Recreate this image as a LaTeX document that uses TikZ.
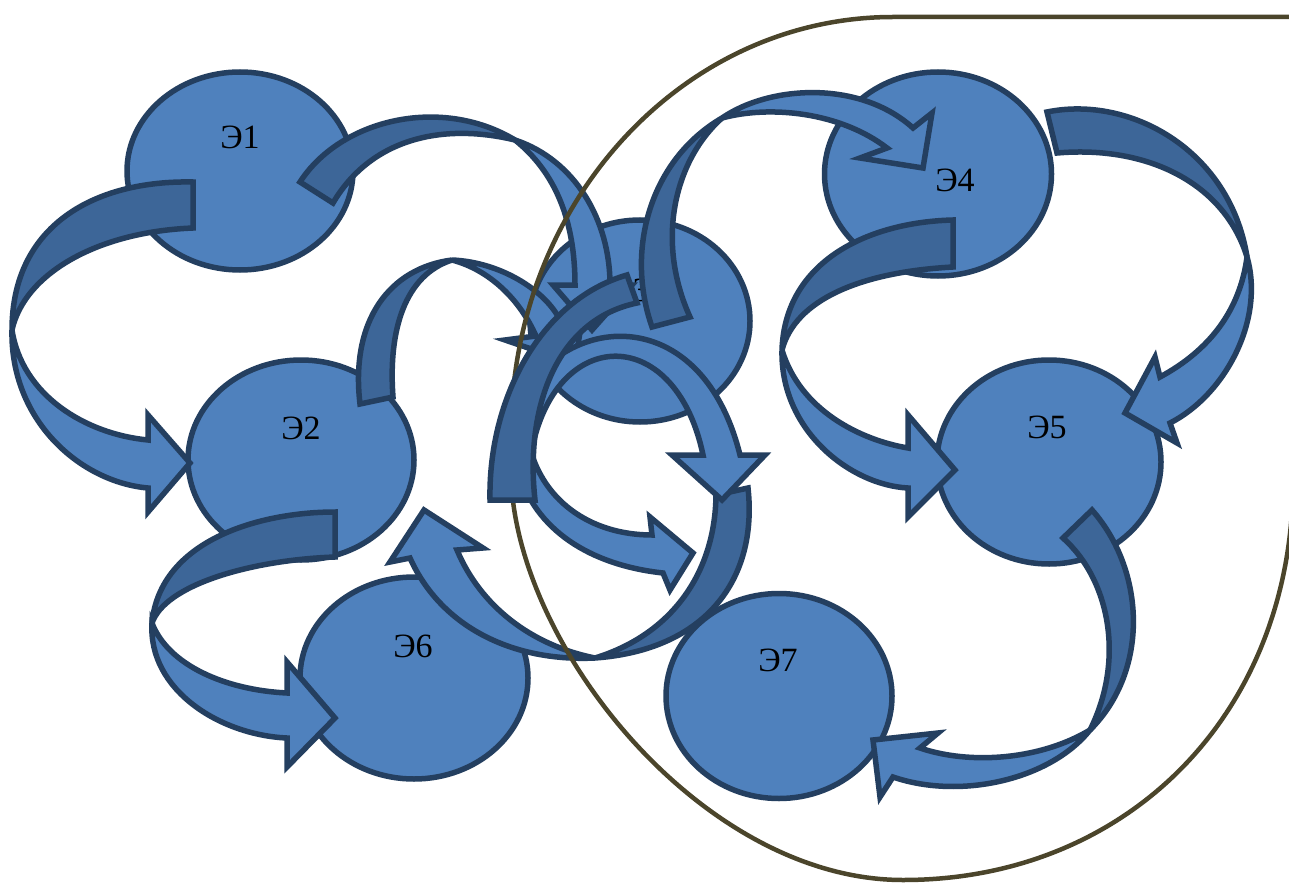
\documentclass[tikz,border=0pt]{standalone}
\usepackage{fontspec}
\setmainfont{Liberation Serif}
\usetikzlibrary{shapes.geometric}
\definecolor{abl}{HTML}{4F81BD}
\definecolor{adk}{HTML}{3D6698}
\definecolor{aed}{HTML}{243F60}
\definecolor{brn}{HTML}{4B452B}
\begin{document}
\begin{tikzpicture}[x=1pt,y=-1pt,
  elli/.style={ellipse, draw=aed, fill=abl, line width=5.5pt, inner sep=0pt},
  lbl/.style={font=\fontsize{34}{40}\selectfont, text=black, inner sep=0pt},
  backband/.style={draw=aed, fill=adk, line width=5.5pt, line join=miter, miter limit=6},
  frontband/.style={draw=aed, fill=abl, line width=5.5pt, line join=miter, miter limit=6},
  outline/.style={draw=brn, line width=4.5pt}]
\useasboundingbox (0,0) rectangle (1289,885);
\fill[white] (0,0) rectangle (1289,885);
% ellipses
\node[elli, minimum width=226pt, minimum height=198pt] (e1) at (240,171) {};
\node[elli, minimum width=226pt, minimum height=200pt] (e2) at (301,460) {};
\node[elli, minimum width=220pt, minimum height=202pt] (e3) at (640,321) {};
\node[elli, minimum width=227pt, minimum height=204pt] (e4) at (938,174) {};
\node[elli, minimum width=224pt, minimum height=204pt] (e5) at (1049,462) {};
\node[elli, minimum width=228pt, minimum height=202pt] (e6) at (414,678) {};
\node[elli, minimum width=226pt, minimum height=205pt] (e7) at (779,696) {};
\node[lbl] (l1) at (240,137) {Э1};
\node[lbl] (l2) at (301,428) {Э2};
\node[lbl] (l3) at (630,290) {Э3};
\node[lbl] (l4) at (955,180) {Э4};
\node[lbl] (l5) at (1047,427) {Э5};
\node[lbl] (l6) at (413,646) {Э6};
\node[lbl] (l7) at (778,660) {Э7};
% A1: E1 -> E2
\draw[backband] (193,182) .. controls (95,180) and (12,225) .. (12,330) .. controls (24,275) and (95,232) .. (193,228) -- cycle;
\draw[frontband] (12,330) .. controls (10,420) and (80,482) .. (148,488) -- (148,512) -- (190,463) -- (148,415) -- (148,440) .. controls (85,434) and (22,395) .. (12,330) -- cycle;
% A5: E2 -> E6
\draw[backband] (335,512) .. controls (260,512) and (160,540) .. (152,623) .. controls (165,585) and (250,560) .. (335,557) -- cycle;
\draw[frontband] (152,623) .. controls (148,690) and (220,735) .. (287,738) -- (287,767) -- (335,718) -- (287,662) -- (287,693) .. controls (225,690) and (168,665) .. (152,623) -- cycle;
% A8: E4 -> E5 (left)
\draw[backband] (953,220) .. controls (870,222) and (785,260) .. (782,350) .. controls (795,300) and (860,272) .. (953,267) -- cycle;
\draw[frontband] (782,350) .. controls (780,430) and (850,485) .. (908,488) -- (908,517) -- (955,470) -- (908,415) -- (908,448) .. controls (860,440) and (800,410) .. (782,350) -- cycle;
% A9: E4 -> E5 (right)
\draw[backband] (1047,112) .. controls (1130,95) and (1230,150) .. (1247,257) .. controls (1225,185) and (1150,145) .. (1057,153) -- cycle;
\draw[frontband] (1247,257) .. controls (1265,320) and (1225,395) .. (1170,423) -- (1177,443) -- (1125,413) -- (1155,357) -- (1160,377) .. controls (1210,350) and (1240,310) .. (1247,257) -- cycle;
% A10: E5 -> E7
\draw[backband] (1092,510) .. controls (1145,570) and (1150,670) .. (1090,730) .. controls (1125,660) and (1110,580) .. (1063,538) -- cycle;
\draw[frontband] (1090,730) .. controls (1050,780) and (960,800) .. (893,777) -- (880,797) -- (873,740) -- (938,733) -- (920,748) .. controls (970,765) and (1040,760) .. (1090,730) -- cycle;
% A2: E1 -> E3
\draw[backband] (300,182) .. controls (340,120) and (440,95) .. (515,140) .. controls (440,122) and (370,140) .. (333,203) -- cycle;
\draw[frontband] (515,140) .. controls (575,160) and (610,220) .. (610,285) -- (632,285) -- (592,330) -- (553,285) -- (575,285) .. controls (575,220) and (555,172) .. (515,140) -- cycle;
% A3: E2 -> E3
\draw[backband] (360,404) .. controls (350,320) and (390,268) .. (452,260) .. controls (405,275) and (388,330) .. (393,397) -- cycle;
\draw[frontband] (452,260) .. controls (500,262) and (545,290) .. (560,320) -- (585,300) -- (575,364) -- (505,340) -- (536,336) .. controls (520,300) and (490,270) .. (452,260) -- cycle;
% A12: inner lower arc
\draw[frontband] (528,440) .. controls (540,500) and (590,535) .. (652,535) -- (650,517) -- (693,553) -- (670,590) -- (663,573) .. controls (590,565) and (535,530) .. (518,470) -- cycle;
% A6: loop -> E2
\draw[backband] (748,488) .. controls (758,580) and (705,650) .. (595,658) .. controls (670,635) and (715,575) .. (716,495) -- cycle;
\draw[frontband] (595,658) .. controls (510,662) and (440,625) .. (410,558) -- (390,562) -- (424,510) -- (483,548) -- (457,550) .. controls (480,605) and (530,645) .. (595,658) -- cycle;
% A11: upper loop
\draw[frontband] (505,455) .. controls (515,320) and (695,275) .. (740,455) -- (765,455) -- (722,500) -- (672,455) -- (703,455) .. controls (675,320) and (550,325) .. (530,460) -- cycle;
% outline
\draw[outline] (1295,17) -- (893,17) .. controls (682,17) and (511,204) .. (511,435) -- (511,470) .. controls (511,640) and (700,880) .. (903,880) .. controls (1129,880) and (1293,712) .. (1293,480) -- (1293,17);
% A4 dark band
\draw[backband] (490,500) .. controls (488,400) and (540,300) .. (627,275) -- (637,303) .. controls (555,320) and (525,410) .. (535,500) -- cycle;
% A7: E3 -> E4
\draw[backband] (652,327) .. controls (625,250) and (650,160) .. (722,118) .. controls (675,160) and (655,240) .. (690,317) -- cycle;
\draw[frontband] (722,118) .. controls (770,85) and (860,80) .. (913,128) -- (932,113) -- (923,168) -- (860,158) -- (887,148) .. controls (840,112) and (770,105) .. (722,118) -- cycle;
\end{tikzpicture}
\end{document}
